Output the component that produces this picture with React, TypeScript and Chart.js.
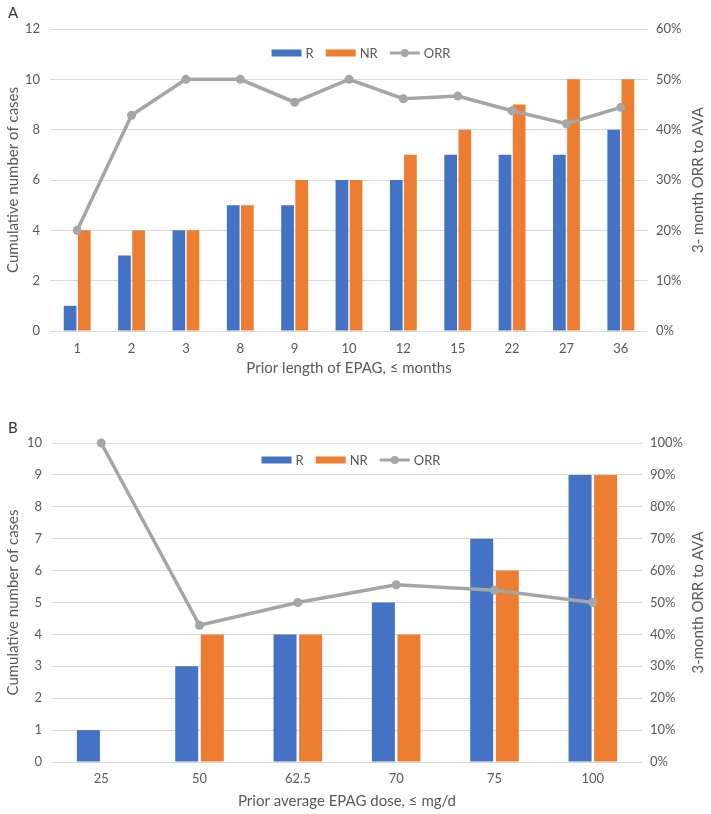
import React, { useEffect, useRef } from "react";
import { Chart, registerables } from "chart.js";

Chart.register(...registerables);

const FONT = "Lato, 'Noto Sans', sans-serif";
const TEXT = "#595959";
const GRID = "#D9D9D9";
const BLUE = "#4472C4";
const ORANGE = "#ED7D31";
const GRAY = "#A5A5A5";

// Panel A
const lengthCategories = ["1", "2", "3", "8", "9", "10", "12", "15", "22", "27", "36"];
const lengthR = [1, 3, 4, 5, 5, 6, 6, 7, 7, 7, 8];
const lengthNR = [4, 4, 4, 5, 6, 6, 7, 8, 9, 10, 10];
const lengthORR = [0.2, 0.4286, 0.5, 0.5, 0.4545, 0.5, 0.4615, 0.4667, 0.4375, 0.4118, 0.4444];

// Panel B
const doseCategories = ["25", "50", "62.5", "70", "75", "100"];
const doseR = [1, 3, 4, 5, 7, 9];
const doseNR = [0, 4, 4, 4, 6, 9];
const doseORR = [1.0, 0.4286, 0.5, 0.5556, 0.5385, 0.5];

const seriesLabels = ["R", "NR", "ORR"];

type PanelProps = {
  categories: string[];
  r: number[];
  nr: number[];
  orr: number[];
  leftMax: number;
  leftStep: number;
  rightMax: number;
  xTitle: string;
  rightTitle: string;
  width: number;
  height: number;
  padTop: number;
  leftW: number;
  rightW: number;
  xH: number;
  xPad: number;
  legendY: number;
  legendOffset: number;
};

const TITLE_SIZE = 15;

function makeDecorPlugin(legendY: number, legendOffset: number, rightTitle: string) {
  return {
    id: "panelDecor",
    afterDraw(chart: any) {
      const ctx = chart.ctx as CanvasRenderingContext2D;
      const ca = chart.chartArea;
      // legend
      ctx.save();
      ctx.font = `13px ${FONT}`;
      ctx.textBaseline = "middle";
      ctx.textAlign = "left";
      const ds = chart.data.datasets;
      const boxW = 30;
      const gapText = 4;
      const gapItem = 12;
      const widths = ds.map((d: any) => boxW + gapText + ctx.measureText(d.label).width);
      const total = widths.reduce((a: number, b: number) => a + b, 0) + gapItem * (ds.length - 1);
      let x = (ca.left + ca.right) / 2 + legendOffset - total / 2;
      const y = legendY;
      ds.forEach((d: any, i: number) => {
        if (d.type === "line") {
          ctx.strokeStyle = d.borderColor;
          ctx.lineWidth = 3;
          ctx.beginPath();
          ctx.moveTo(x, y);
          ctx.lineTo(x + boxW, y);
          ctx.stroke();
          ctx.fillStyle = d.borderColor;
          ctx.beginPath();
          ctx.arc(x + boxW / 2, y, 4, 0, Math.PI * 2);
          ctx.fill();
        } else {
          ctx.fillStyle = d.backgroundColor;
          ctx.fillRect(x, y - 3.5, boxW, 7);
        }
        ctx.fillStyle = TEXT;
        ctx.fillText(d.label, x + boxW + gapText, y + 0.5);
        x += widths[i] + gapItem;
      });
      ctx.restore();
      // right axis title, reading bottom to top
      ctx.save();
      ctx.font = `${TITLE_SIZE}px ${FONT}`;
      ctx.fillStyle = TEXT;
      ctx.textAlign = "center";
      ctx.textBaseline = "middle";
      ctx.translate(chart.width - 13, (ca.top + ca.bottom) / 2);
      ctx.rotate(-Math.PI / 2);
      ctx.fillText(rightTitle, 0, 0);
      ctx.restore();
    },
  };
}

function Panel(p: PanelProps) {
  const ref = useRef<HTMLCanvasElement | null>(null);
  useEffect(() => {
    if (!ref.current) return;
    const tickFont = { family: FONT, size: 13 };
    const titleFont = { family: FONT, size: TITLE_SIZE };
    const chart = new Chart(ref.current, {
      type: "bar",
      data: {
        labels: p.categories,
        datasets: [
          {
            type: "bar",
            label: seriesLabels[0],
            data: p.r,
            backgroundColor: BLUE,
            yAxisID: "y",
            order: 2,
            categoryPercentage: 0.52,
            barPercentage: 0.9,
          } as any,
          {
            type: "bar",
            label: seriesLabels[1],
            data: p.nr,
            backgroundColor: ORANGE,
            yAxisID: "y",
            order: 2,
            categoryPercentage: 0.52,
            barPercentage: 0.9,
          } as any,
          {
            type: "line",
            label: seriesLabels[2],
            data: p.orr,
            borderColor: GRAY,
            backgroundColor: GRAY,
            borderWidth: 3.5,
            pointRadius: 4.5,
            pointBackgroundColor: GRAY,
            pointBorderColor: GRAY,
            pointBorderWidth: 0,
            yAxisID: "y1",
            order: 0,
            tension: 0,
            clip: false,
          } as any,
        ],
      },
      options: {
        animation: false,
        responsive: false,
        maintainAspectRatio: false,
        layout: { padding: { top: p.padTop, left: 0, right: 0, bottom: 0 } },
        plugins: {
          legend: { display: false },
          tooltip: { enabled: false },
          title: { display: false },
        },
        scales: {
          x: {
            grid: { display: false, drawTicks: false },
            border: { display: false },
            ticks: { color: TEXT, font: tickFont, padding: p.xPad, maxRotation: 0 },
            title: { display: true, text: p.xTitle, color: TEXT, font: titleFont, padding: { top: 4, bottom: 4 } },
            afterFit: (s: any) => {
              s.height = p.xH;
            },
          },
          y: {
            position: "left",
            min: 0,
            max: p.leftMax,
            ticks: { stepSize: p.leftStep, color: TEXT, font: tickFont, padding: 10 },
            grid: { color: GRID, lineWidth: 1, drawTicks: false },
            border: { display: false },
            title: { display: true, text: "Cumulative number of cases", color: TEXT, font: titleFont, padding: { top: 4, bottom: 4 } },
            afterFit: (s: any) => {
              s.width = p.leftW;
            },
          },
          y1: {
            position: "right",
            min: 0,
            max: p.rightMax,
            ticks: {
              stepSize: 0.1,
              color: TEXT,
              font: tickFont,
              padding: 8,
              callback: (v: any) => Math.round(Number(v) * 100) + "%",
            },
            grid: { display: false, drawTicks: false },
            border: { display: false },
            title: { display: false },
            afterFit: (s: any) => {
              s.width = p.rightW;
            },
          },
        },
      } as any,
      plugins: [makeDecorPlugin(p.legendY, p.legendOffset, p.rightTitle)],
    });
    return () => chart.destroy();
  }, []);
  return <canvas ref={ref} width={p.width} height={p.height} style={{ display: "block", width: p.width, height: p.height }} />;
}

export default function App() {
  const labelStyle: React.CSSProperties = {
    position: "absolute",
    left: 8,
    fontFamily: FONT,
    fontSize: 15,
    color: "#333",
    lineHeight: "18px",
  };
  return (
    <div style={{ position: "absolute", left: 0, top: 0, width: 711, height: 814, background: "#fff", overflow: "hidden" }}>
      <div style={{ position: "absolute", left: 0, top: 0 }}>
        <Panel
          categories={lengthCategories}
          r={lengthR}
          nr={lengthNR}
          orr={lengthORR}
          leftMax={12}
          leftStep={2}
          rightMax={0.6}
          xTitle="Prior length of EPAG, ≤ months"
          rightTitle="3- month ORR to AVA"
          width={711}
          height={381}
          padTop={29}
          leftW={50}
          rightW={63}
          xH={50}
          xPad={10}
          legendY={53}
          legendOffset={12}
        />
      </div>
      <div style={{ position: "absolute", left: 0, top: 392 }}>
        <Panel
          categories={doseCategories}
          r={doseR}
          nr={doseNR}
          orr={doseORR}
          leftMax={10}
          leftStep={1}
          rightMax={1}
          xTitle="Prior average EPAG dose, ≤ mg/d"
          rightTitle="3-month ORR to AVA"
          width={711}
          height={422}
          padTop={51}
          leftW={52}
          rightW={69}
          xH={52}
          xPad={9}
          legendY={68}
          legendOffset={4}
        />
      </div>
      <div style={{ ...labelStyle, top: 3 }}>A</div>
      <div style={{ ...labelStyle, top: 418 }}>B</div>
    </div>
  );
}
